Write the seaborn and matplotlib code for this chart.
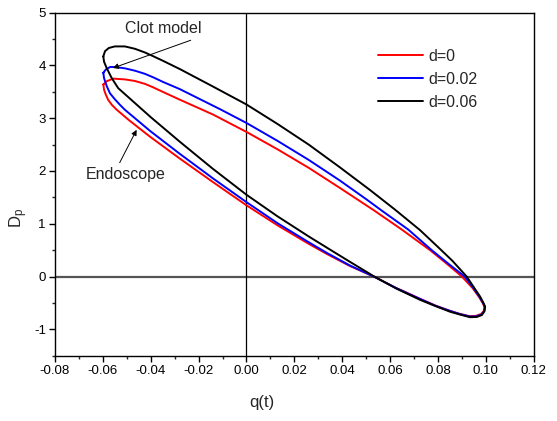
import matplotlib
matplotlib.use("Agg")
import matplotlib.pyplot as plt
import seaborn as sns
import pandas as pd
from matplotlib.ticker import MultipleLocator, FormatStrFormatter
from matplotlib.lines import Line2D

# ---- data (closed loops: q(t) vs Dp) ----
red_q = [-0.0598, -0.0584, -0.0557, -0.0508, -0.0466, -0.0424, -0.0390, -0.0350, -0.0278, -0.0140,
         0.0000, 0.0130, 0.0260, 0.0390, 0.0534, 0.0649, 0.0767, 0.0835, 0.0900, 0.0945,
         0.0972, 0.0988, 0.0994, 0.0992, 0.0980, 0.0958, 0.0932, 0.0890, 0.0848, 0.0790,
         0.0725, 0.0625, 0.0532, 0.0432, 0.0335, 0.0260, 0.0130, 0.0000, -0.0140, -0.0280,
         -0.0403, -0.0490, -0.0542, -0.0562, -0.0578, -0.0588, -0.0595, -0.0598]
red_dp = [3.64, 3.70, 3.75, 3.735, 3.705, 3.65, 3.585, 3.50, 3.35, 3.07,
          2.74, 2.41, 2.06, 1.68, 1.25, 0.89, 0.50, 0.25, 0.00, -0.22,
          -0.39, -0.51, -0.58, -0.65, -0.71, -0.745, -0.75, -0.705, -0.645, -0.55,
          -0.42, -0.215, 0.00, 0.20, 0.43, 0.62, 0.97, 1.35, 1.79, 2.24,
          2.65, 2.96, 3.16, 3.25, 3.35, 3.45, 3.54, 3.64]

blue_q = [-0.0598, -0.0588, -0.0570, -0.0550, -0.0508, -0.0466, -0.0424, -0.0390, -0.0350, -0.0278,
          -0.0110, 0.0000, 0.0130, 0.0260, 0.0390, 0.0502, 0.0565, 0.0676, 0.0774, 0.0850,
          0.0912, 0.0947, 0.0974, 0.0989, 0.0996, 0.0993, 0.0982, 0.0960, 0.0933, 0.0891,
          0.0849, 0.0790, 0.0725, 0.0625, 0.0532, 0.0432, 0.0335, 0.0260, 0.0130, 0.0000,
          -0.0140, -0.0280, -0.0403, -0.0508, -0.0530, -0.0550, -0.0570, -0.0584, -0.0595, -0.0598]
blue_dp = [3.86, 3.92, 3.97, 3.97, 3.945, 3.90, 3.84, 3.775, 3.69, 3.55,
           3.17, 2.91, 2.57, 2.21, 1.82, 1.46, 1.25, 0.89, 0.50, 0.22,
           0.00, -0.21, -0.385, -0.505, -0.575, -0.655, -0.72, -0.755, -0.758, -0.71,
           -0.65, -0.555, -0.425, -0.218, 0.00, 0.21, 0.45, 0.65, 1.01, 1.41,
           1.86, 2.33, 2.76, 3.16, 3.26, 3.36, 3.47, 3.61, 3.76, 3.86]

black_q = [-0.0598, -0.0591, -0.0575, -0.0550, -0.0508, -0.0466, -0.0424, -0.0390, -0.0350, -0.0278,
           -0.0140, 0.0000, 0.0130, 0.0260, 0.0390, 0.0516, 0.0620, 0.0725, 0.0800, 0.0860,
           0.0920, 0.0948, 0.0976, 0.0990, 0.0997, 0.0994, 0.0983, 0.0962, 0.0934, 0.0892,
           0.0850, 0.0790, 0.0725, 0.0625, 0.0534, 0.0432, 0.0335, 0.0260, 0.0130, 0.0000,
           -0.0140, -0.0280, -0.0400, -0.0494, -0.0536, -0.0563, -0.0584, -0.0595, -0.0598]
black_dp = [4.17, 4.27, 4.33, 4.36, 4.36, 4.315, 4.245, 4.175, 4.09, 3.93,
            3.60, 3.26, 2.89, 2.50, 2.07, 1.64, 1.27, 0.88, 0.56, 0.30,
            0.00, -0.19, -0.38, -0.50, -0.57, -0.66, -0.73, -0.765, -0.77, -0.72,
            -0.665, -0.56, -0.44, -0.225, 0.00, 0.28, 0.55, 0.76, 1.14, 1.55,
            2.04, 2.56, 3.02, 3.40, 3.57, 3.76, 3.95, 4.07, 4.17]

series_labels = ["d=0", "d=0.02", "d=0.06"]
series_colors = ["#ff0000", "#0000ff", "#000000"]

x_ticks = [-0.08, -0.06, -0.04, -0.02, 0.00, 0.02, 0.04, 0.06, 0.08, 0.10, 0.12]
y_ticks = [-1, 0, 1, 2, 3, 4, 5]

frames = []
for lab, qs, ds in zip(series_labels, [red_q, blue_q, black_q], [red_dp, blue_dp, black_dp]):
    frames.append(pd.DataFrame({"q": qs, "Dp": ds, "d": lab}))
df = pd.concat(frames, ignore_index=True)

sns.set_theme(style="white")
plt.rcParams["font.family"] = ["Liberation Sans", "DejaVu Sans"]
plt.rcParams["axes.unicode_minus"] = False
plt.rcParams["mathtext.fontset"] = "custom"
plt.rcParams["mathtext.rm"] = "Liberation Sans"
plt.rcParams["mathtext.it"] = "Liberation Sans"

fig = plt.figure(figsize=(5.57, 4.21), dpi=100)
ax = fig.add_axes([0.0987, 0.155, 0.8595, 0.815])

# reference lines
ax.axhline(0, color="#555555", lw=1.6, zorder=1)
ax.axvline(0, color="black", lw=0.9, zorder=1)

sns.lineplot(data=df, x="q", y="Dp", hue="d", sort=False, estimator=None,
             units="d", palette=dict(zip(series_labels, series_colors)),
             lw=1.4, ax=ax, legend=False, zorder=3,
             solid_joinstyle="round", solid_capstyle="round")

ax.set_xlim(-0.08, 0.12)
ax.set_ylim(-1.5, 5)
ax.set_xticks(x_ticks)
ax.set_yticks(y_ticks)
ax.xaxis.set_major_formatter(FormatStrFormatter("%.2f"))
ax.yaxis.set_major_formatter(FormatStrFormatter("%d"))
ax.xaxis.set_minor_locator(MultipleLocator(0.01))
ax.yaxis.set_minor_locator(MultipleLocator(0.5))
ax.tick_params(which="major", direction="out", length=4.5, width=1.0, colors="black",
               labelsize=9.5, bottom=True, left=True, top=False, right=False, pad=2)
ax.tick_params(which="minor", direction="out", length=2.5, width=1.0,
               bottom=True, left=True, top=False, right=False)
for s in ax.spines.values():
    s.set_color("black")
    s.set_linewidth(1.0)

ax.set_xlabel("q(t)", fontsize=12)
ax.xaxis.set_label_coords(0.432, -0.115)
ax.set_ylabel("$D_p$", fontsize=12)
ax.yaxis.set_label_coords(-0.052, 0.40)

# legend
handles = [Line2D([], [], color=c, lw=1.4) for c in series_colors]
ax.legend(handles, series_labels, loc="upper left", bbox_to_anchor=(0.674, 0.895),
          frameon=False, fontsize=11.5, handlelength=2.85, handletextpad=0.35,
          labelspacing=0.5, borderpad=0, borderaxespad=0)

# annotations
arrow_kw = dict(arrowstyle="-|>", color="black", lw=0.7, mutation_scale=8, shrinkA=1, shrinkB=0)
ax.annotate("Clot model", xy=(-0.0558, 3.95), xytext=(-0.0349, 4.69), fontsize=11.5,
            ha="center", va="center", arrowprops=dict(**arrow_kw, relpos=(1.0, 0.0)))
ax.annotate("Endoscope", xy=(-0.0459, 2.78), xytext=(-0.0506, 1.93), fontsize=11.5,
            ha="center", va="center", arrowprops=dict(**arrow_kw, relpos=(0.4, 1.0)))

fig.savefig("out.png", dpi=100)
